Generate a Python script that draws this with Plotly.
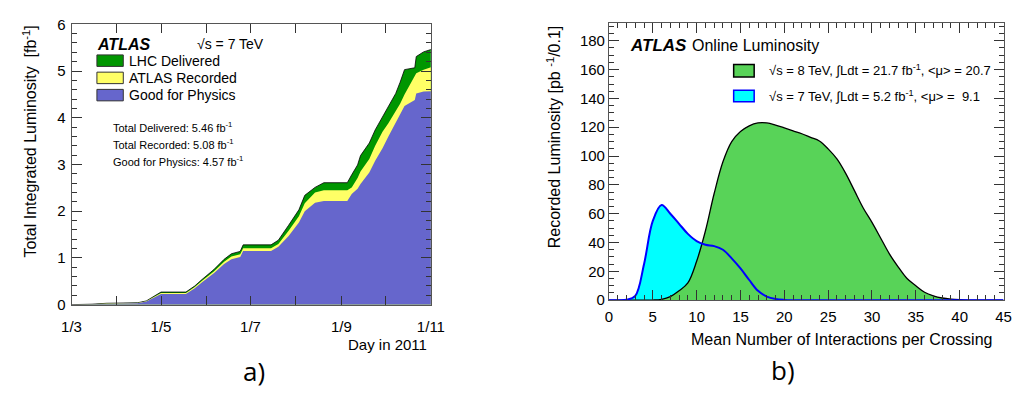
import plotly.graph_objects as go

W, H = 1026, 394

# ---- a) cumulative luminosity, 2011 ----
days = ["2011-03-01", "2011-03-12", "2011-03-15", "2011-03-25", "2011-04-15", "2011-04-21",
        "2011-05-01", "2011-05-18", "2011-05-24", "2011-05-29", "2011-06-06", "2011-06-13",
        "2011-06-18", "2011-06-24", "2011-06-26", "2011-07-15", "2011-07-20", "2011-07-27",
        "2011-08-03", "2011-08-07", "2011-08-14", "2011-08-20", "2011-09-05", "2011-09-08",
        "2011-09-12", "2011-09-14", "2011-09-20", "2011-09-24", "2011-09-29", "2011-10-03",
        "2011-10-08", "2011-10-11", "2011-10-14", "2011-10-21", "2011-10-22", "2011-10-27",
        "2011-10-31", "2011-11-01"]
delivered = [0, 0.0, 0.01, 0.03, 0.04, 0.08,
             0.27, 0.27, 0.40, 0.54, 0.75, 0.97,
             1.09, 1.14, 1.28, 1.28, 1.38, 1.70,
             2.03, 2.34, 2.51, 2.61, 2.61, 2.78,
             2.99, 3.19, 3.46, 3.74, 4.01, 4.25,
             4.52, 4.76, 5.03, 5.07, 5.31, 5.41,
             5.46, 5.46]
recorded = [0, 0.0, 0.01, 0.025, 0.035, 0.075,
            0.25, 0.25, 0.38, 0.51, 0.71, 0.92,
            1.03, 1.08, 1.21, 1.21, 1.30, 1.58,
            1.89, 2.17, 2.40, 2.45, 2.45, 2.51,
            2.71, 2.85, 3.12, 3.40, 3.70, 3.88,
            4.15, 4.30, 4.50, 4.90, 4.95, 5.03,
            5.08, 5.08]
good = [0, 0.0, 0.01, 0.02, 0.03, 0.07,
        0.23, 0.23, 0.35, 0.48, 0.67, 0.87,
        0.97, 1.02, 1.15, 1.15, 1.24, 1.47,
        1.76, 2.00, 2.18, 2.22, 2.22, 2.37,
        2.48, 2.58, 2.83, 3.08, 3.35, 3.60,
        3.90, 4.05, 4.25, 4.38, 4.52, 4.56,
        4.57, 4.57]

# ---- b) pile-up distributions ----
mu = list(range(0, 46))
lumi_8tev = [0, 0, 0, 0, 0, 0.1, 0.6, 2.5, 6.5, 12, 27, 48, 74, 96, 110, 117,
             121, 123, 123, 121.5, 119.5, 117.5, 115.5, 113, 110.5, 105, 98, 88,
             76, 64, 54, 43, 32, 23, 15, 10, 5.5, 3, 1.5, 0.7, 0.3, 0.1, 0, 0, 0, 0]
lumi_7tev = [0, 0, 0.3, 3, 25, 55, 66, 60, 53, 46, 41, 38.5, 37.5, 35, 29, 22,
             14, 6.5, 2.5, 0.8, 0.2, 0, 0, 0, 0, 0, 0, 0, 0, 0, 0, 0, 0, 0, 0, 0,
             0, 0, 0, 0, 0, 0, 0, 0, 0, 0]

GREEN_D, YELLOW, BLUE = "#009600", "#ffff66", "#6666cc"
GREEN_8, CYAN = "#58d358", "#00ffff"
FONT = "Liberation Sans, Arial, sans-serif"
FRAME = "#555555"


def px(x):
    return x / W


def py(y):
    return 1 - y / H


fig = go.Figure()

fig.add_trace(go.Scatter(x=days, y=delivered, mode="lines", fill="tozeroy",
                         fillcolor=GREEN_D, line=dict(color="black", width=0.8),
                         name="LHC Delivered", showlegend=False, xaxis="x", yaxis="y"))
fig.add_trace(go.Scatter(x=days, y=recorded, mode="lines", fill="tozeroy",
                         fillcolor=YELLOW, line=dict(width=0),
                         name="ATLAS Recorded", showlegend=False, xaxis="x", yaxis="y"))
fig.add_trace(go.Scatter(x=days, y=good, mode="lines", fill="tozeroy",
                         fillcolor=BLUE, line=dict(width=0),
                         name="Good for Physics", showlegend=False, xaxis="x", yaxis="y"))

fig.add_trace(go.Scatter(x=mu, y=lumi_7tev, mode="lines", fill="tozeroy",
                         fillcolor=CYAN, line=dict(width=0, shape="spline"),
                         showlegend=False, xaxis="x2", yaxis="y2"))
fig.add_trace(go.Scatter(x=mu, y=lumi_8tev, mode="lines", fill="tozeroy",
                         fillcolor=GREEN_8, line=dict(color="black", width=1.3, shape="spline"),
                         showlegend=False, xaxis="x2", yaxis="y2"))
fig.add_trace(go.Scatter(x=mu, y=lumi_7tev, mode="lines",
                         line=dict(color="#0000ff", width=2, shape="spline"),
                         showlegend=False, xaxis="x2", yaxis="y2"))

axis_common = dict(showline=True, linecolor=FRAME, linewidth=1, mirror="ticks",
                   ticks="inside", tickcolor="#333333", showgrid=False, zeroline=False,
                   tickfont=dict(family=FONT, size=15, color="black"))

fig.update_layout(
    width=W, height=H,
    margin=dict(l=0, r=0, t=0, b=0),
    paper_bgcolor="white", plot_bgcolor="white",
    showlegend=False,
    xaxis=dict(domain=[px(63), px(431)], anchor="y", type="date",
               range=["2011-03-01", "2011-11-01"], dtick="M2", tick0="2011-03-01",
               tickformat="%-d/%-m", ticklen=9, ticklabelstandoff=8,
               minor=dict(ticks="inside", dtick="M1", ticklen=9, tickcolor="#333333"),
               **axis_common),
    yaxis=dict(domain=[py(309), py(16)], anchor="x", range=[0, 6], dtick=1, ticklen=10,
               ticklabelstandoff=2,
               minor=dict(ticks="inside", dtick=0.2, ticklen=5, tickcolor="#333333"),
               **axis_common),
    xaxis2=dict(domain=[px(613.3), px(1017.3)], anchor="y2", range=[0, 45], dtick=5,
                ticklen=10, ticklabelstandoff=3,
                minor=dict(ticks="inside", dtick=1, ticklen=5, tickcolor="#333333"),
                **axis_common),
    yaxis2=dict(domain=[py(304.3), py(14.7)], anchor="x2", range=[0, 192.3], dtick=20,
                ticklen=10,
                minor=dict(ticks="inside", dtick=5, ticklen=5, tickcolor="#333333"),
                **axis_common),
)

ann = []


def text(x, y, s, size, xanchor="left", angle=0, family=FONT, color="black"):
    ann.append(dict(x=px(x), y=py(y), xref="paper", yref="paper", text=s,
                    showarrow=False, xanchor=xanchor, yanchor="middle", textangle=angle,
                    font=dict(family=family, size=size, color=color)))


# panel a) labels
text(87, 37, "<b><i>ATLAS</i></b>", 16)
text(189, 37, "√s = 7 TeV", 14)
text(120, 54, "LHC Delivered", 14)
text(120, 72, "ATLAS Recorded", 14)
text(120, 90, "Good for Physics", 14)
text(103, 123, "Total Delivered: 5.46 fb<sup>-1</sup>", 11)
text(103, 141, "Total Recorded: 5.08 fb<sup>-1</sup>", 11)
text(103, 159, "Good for Physics: 4.57 fb<sup>-1</sup>", 11)
text(20, 139, "Total Integrated Luminosity  [fb<sup>-1</sup>]", 16, xanchor="center", angle=-90)
text(429, 351, "Day in 2011", 15, xanchor="right")
text(250, 378, "a)", 26, xanchor="center", family="Open Sans, sans-serif")

# panel b) labels
text(633, 38, "<b><i>ATLAS</i></b>", 17)
text(696, 38, "Online Luminosity", 16)
text(775, 64, "√s = 8 TeV, ∫Ldt = 21.7 fb<sup>-1</sup>, &lt;μ&gt; = 20.7", 13)
text(775, 91, "√s = 7 TeV, ∫Ldt = 5.2 fb<sup>-1</sup>, &lt;μ&gt; =  9.1", 13)
text(557, 133, "Recorded Luminosity [pb <sup>-1</sup>/0.1]", 16, xanchor="center", angle=-90)
text(1008, 345, "Mean Number of Interactions per Crossing", 16, xanchor="right")
text(792, 377, "b)", 26, xanchor="center", family="Open Sans, sans-serif")

fig.update_layout(annotations=ann)

# legend keys
shapes = []


def key(x0, y0, x1, y1, fill, line, lw=1):
    shapes.append(dict(type="rect", xref="paper", yref="paper",
                       x0=px(x0), x1=px(x1), y0=py(y1), y1=py(y0),
                       fillcolor=fill, line=dict(color=line, width=lw)))


key(89, 48, 116, 60, GREEN_D, "#333333")
key(89, 66, 116, 78, YELLOW, "#333333")
key(89, 84, 116, 96, BLUE, "#333333")
key(741, 58, 762, 71, GREEN_8, "black", 1.5)
key(741, 85, 762, 97, CYAN, "#0000ff", 1.5)
fig.update_layout(shapes=shapes)

fig.write_html("out.html")
